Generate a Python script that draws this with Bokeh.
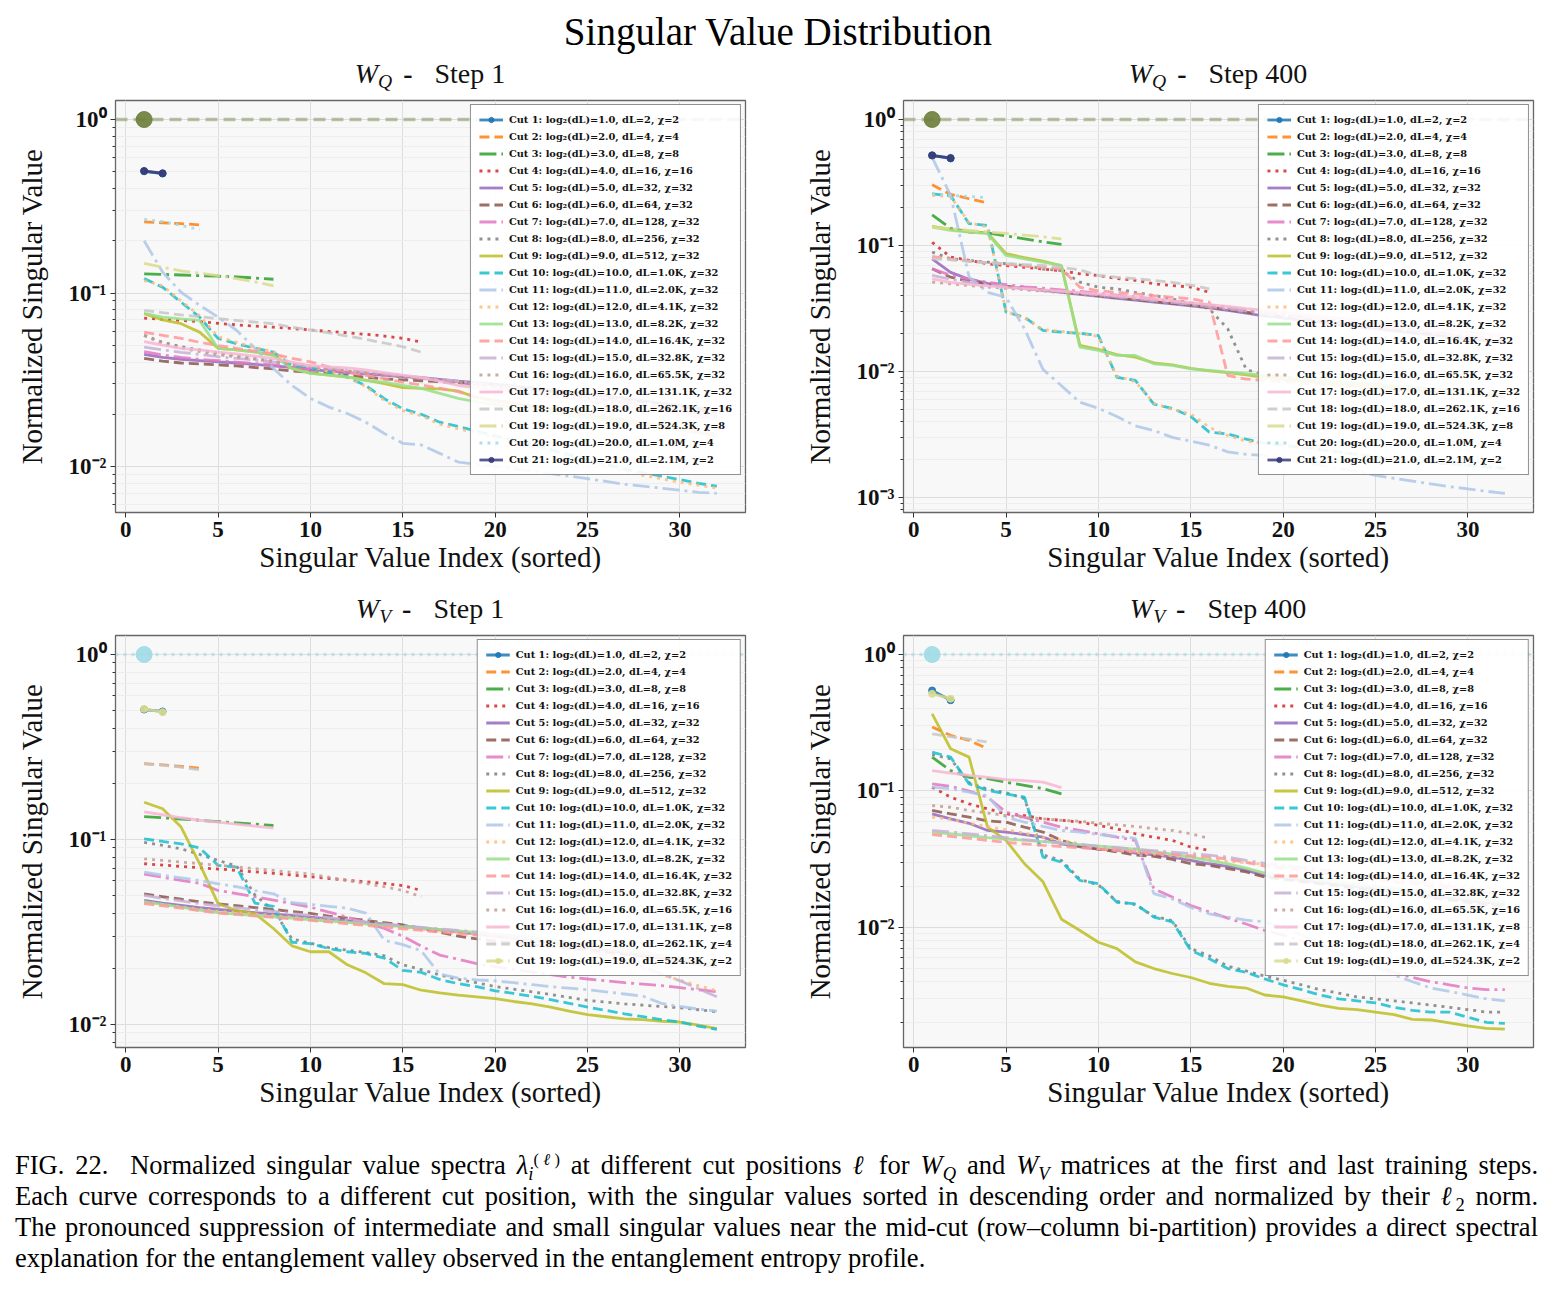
from bokeh.plotting import figure
from bokeh.models import (Range1d, FixedTicker, CustomJSTickFormatter, Span, Div)
from bokeh.layouts import column, row
from bokeh.embed import file_html
from bokeh.resources import INLINE

# ------------------------------------------------------------------ data
TITLE = "Singular Value Distribution"
X_LABEL = "Singular Value Index (sorted)"
Y_LABEL = "Normalized Singular Value"

cut_log2 = [float(k) for k in range(1, 22)]
dl_text = ["2", "4", "8", "16", "32", "64", "128", "256", "512", "1.0K", "2.0K", "4.1K",
           "8.2K", "16.4K", "32.8K", "65.5K", "131.1K", "262.1K", "524.3K", "1.0M", "2.1M"]
chi_wq = [2, 4, 8, 16, 32, 32, 32, 32, 32, 32, 32, 32, 32, 32, 32, 32, 32, 16, 8, 4, 2]
chi_wv = [2, 4, 8, 16, 32, 32, 32, 32, 32, 32, 32, 32, 32, 32, 32, 16, 8, 4, 2]

x_ticks = [0, 5, 10, 15, 20, 25, 30]
unity_index = [1]
unity_value = [1.0]

# W_Q, step 1 (cuts 1..21)
wq_step1 = [
    [0.503, 0.488],
    [0.257, 0.254, 0.251, 0.247],
    [0.129, 0.128, 0.127, 0.126, 0.125, 0.124, 0.122, 0.120],
    [0.0716, 0.0705, 0.0695, 0.0685, 0.0668, 0.0655, 0.0645, 0.0635, 0.0625, 0.0612, 0.0600, 0.0590, 0.0578, 0.0565, 0.0548, 0.0522],
    [0.0443, 0.0425, 0.0415, 0.0408, 0.0401, 0.0395, 0.0388, 0.0380, 0.0372, 0.0362, 0.0355, 0.0348, 0.0342, 0.0336, 0.0330, 0.0325, 0.0318, 0.0310, 0.0304, 0.0298, 0.0291, 0.0284, 0.0277, 0.0270, 0.0262, 0.0255, 0.0248, 0.0240, 0.0232, 0.0225, 0.0218, 0.0210],
    [0.0420, 0.0405, 0.0395, 0.0390, 0.0385, 0.0380, 0.0372, 0.0365, 0.0355, 0.0348, 0.0342, 0.0335, 0.0328, 0.0320, 0.0316, 0.0312, 0.0308, 0.0304, 0.0300, 0.0296, 0.0288, 0.0280, 0.0272, 0.0265, 0.0258, 0.0250, 0.0242, 0.0235, 0.0228, 0.0220, 0.0213, 0.0205],
    [0.0460, 0.0440, 0.0425, 0.0415, 0.0408, 0.0400, 0.0392, 0.0385, 0.0375, 0.0365, 0.0358, 0.0350, 0.0343, 0.0336, 0.0330, 0.0322, 0.0315, 0.0308, 0.0300, 0.0292, 0.0284, 0.0276, 0.0268, 0.0260, 0.0252, 0.0244, 0.0236, 0.0228, 0.0220, 0.0212, 0.0204, 0.0196],
    [0.0570, 0.0520, 0.0490, 0.0470, 0.0450, 0.0435, 0.0420, 0.0405, 0.0390, 0.0378, 0.0366, 0.0355, 0.0345, 0.0336, 0.0328, 0.0320, 0.0312, 0.0304, 0.0296, 0.0288, 0.0280, 0.0272, 0.0264, 0.0256, 0.0248, 0.0240, 0.0232, 0.0224, 0.0216, 0.0208, 0.0200, 0.0192],
    [0.0760, 0.0700, 0.0665, 0.0595, 0.0480, 0.0470, 0.0458, 0.0440, 0.0368, 0.0345, 0.0336, 0.0328, 0.0315, 0.0300, 0.0285, 0.0282, 0.0280, 0.0272, 0.0250, 0.0240, 0.0232, 0.0222, 0.0214, 0.0206, 0.0198, 0.0190, 0.0183, 0.0176, 0.0170, 0.0163, 0.0157, 0.0150],
    [0.121, 0.108, 0.0885, 0.0726, 0.0547, 0.0510, 0.0480, 0.0456, 0.0382, 0.0375, 0.0350, 0.0327, 0.0293, 0.0246, 0.0215, 0.0200, 0.0180, 0.0170, 0.0160, 0.0150, 0.0142, 0.0134, 0.0125, 0.0117, 0.0110, 0.0103, 0.0097, 0.0092, 0.0088, 0.0084, 0.0080, 0.0077],
    [0.200, 0.132, 0.101, 0.085, 0.0726, 0.0610, 0.0480, 0.0367, 0.0293, 0.0247, 0.0220, 0.0202, 0.0180, 0.0155, 0.0136, 0.0133, 0.0119, 0.0106, 0.0103, 0.0100, 0.0097, 0.0094, 0.0091, 0.0088, 0.0085, 0.0082, 0.0079, 0.0077, 0.0075, 0.0073, 0.0071, 0.0070],
    [0.118, 0.110, 0.0900, 0.0740, 0.0560, 0.0520, 0.0485, 0.0460, 0.0390, 0.0378, 0.0352, 0.0330, 0.0288, 0.0240, 0.0210, 0.0196, 0.0175, 0.0165, 0.0156, 0.0147, 0.0139, 0.0130, 0.0122, 0.0114, 0.0107, 0.0100, 0.0094, 0.0089, 0.0085, 0.0081, 0.0078, 0.0075],
    [0.0762, 0.0726, 0.0710, 0.0695, 0.0480, 0.0470, 0.0456, 0.0436, 0.0367, 0.0344, 0.0336, 0.0328, 0.0313, 0.0306, 0.0293, 0.0282, 0.0264, 0.0247, 0.0236, 0.0228, 0.0220, 0.0212, 0.0205, 0.0198, 0.0191, 0.0185, 0.0179, 0.0173, 0.0167, 0.0162, 0.0157, 0.0152],
    [0.0594, 0.0570, 0.0547, 0.0520, 0.0498, 0.0480, 0.0462, 0.0446, 0.0420, 0.0401, 0.0375, 0.0350, 0.0335, 0.0320, 0.0306, 0.0295, 0.0283, 0.0270, 0.0250, 0.0240, 0.0232, 0.0224, 0.0216, 0.0208, 0.0200, 0.0193, 0.0186, 0.0179, 0.0172, 0.0166, 0.0160, 0.0154],
    [0.0488, 0.0470, 0.0455, 0.0442, 0.0430, 0.0420, 0.0410, 0.0400, 0.0390, 0.0380, 0.0370, 0.0360, 0.0350, 0.0342, 0.0334, 0.0326, 0.0318, 0.0310, 0.0302, 0.0294, 0.0286, 0.0278, 0.0270, 0.0262, 0.0254, 0.0246, 0.0238, 0.0230, 0.0222, 0.0214, 0.0206, 0.0198],
    [0.0569, 0.0510, 0.0480, 0.0460, 0.0440, 0.0428, 0.0415, 0.0400, 0.0388, 0.0376, 0.0365, 0.0355, 0.0346, 0.0338, 0.0330, 0.0322, 0.0314, 0.0306, 0.0298, 0.0290, 0.0282, 0.0274, 0.0266, 0.0258, 0.0250, 0.0242, 0.0234, 0.0226, 0.0218, 0.0210, 0.0202, 0.0195],
    [0.0525, 0.0500, 0.0480, 0.0470, 0.0456, 0.0445, 0.0432, 0.0418, 0.0400, 0.0382, 0.0375, 0.0370, 0.0360, 0.0348, 0.0336, 0.0325, 0.0310, 0.0293, 0.0285, 0.0278, 0.0270, 0.0262, 0.0254, 0.0246, 0.0238, 0.0230, 0.0222, 0.0215, 0.0208, 0.0201, 0.0194, 0.0187],
    [0.0795, 0.0770, 0.0748, 0.0730, 0.0713, 0.0695, 0.0680, 0.0665, 0.0635, 0.0612, 0.0590, 0.0565, 0.0540, 0.0515, 0.0490, 0.0456],
    [0.148, 0.141, 0.134, 0.130, 0.126, 0.121, 0.116, 0.110],
    [0.266, 0.258, 0.245, 0.232],
    [0.505, 0.490],
]

# W_Q, step 400 (cuts 1..21)
wq_step400 = [
    [0.520, 0.490],
    [0.303, 0.255, 0.235, 0.218],
    [0.175, 0.137, 0.128, 0.126, 0.119, 0.113, 0.107, 0.102],
    [0.106, 0.081, 0.0763, 0.0716, 0.0694, 0.067, 0.065, 0.0632, 0.0596, 0.0578, 0.0546, 0.0529, 0.0497, 0.0481, 0.0468, 0.0425],
    [0.0784, 0.0612, 0.0540, 0.0500, 0.0470, 0.0455, 0.0440, 0.0425, 0.0410, 0.0395, 0.0380, 0.0368, 0.0356, 0.0344, 0.0332, 0.0320, 0.0305, 0.0290, 0.0275, 0.0265, 0.0255, 0.0245, 0.0236, 0.0227, 0.0218, 0.0210, 0.0202, 0.0195, 0.0188, 0.0181, 0.0175, 0.0169],
    [0.0653, 0.0560, 0.0520, 0.0495, 0.0475, 0.0460, 0.0445, 0.0430, 0.0415, 0.0400, 0.0385, 0.0372, 0.0360, 0.0348, 0.0336, 0.0324, 0.0310, 0.0296, 0.0282, 0.0272, 0.0262, 0.0252, 0.0243, 0.0234, 0.0225, 0.0216, 0.0208, 0.0200, 0.0193, 0.0186, 0.0179, 0.0172],
    [0.0653, 0.0580, 0.0540, 0.0510, 0.0490, 0.0470, 0.0458, 0.0445, 0.0432, 0.0418, 0.0404, 0.0390, 0.0376, 0.0363, 0.0350, 0.0337, 0.0322, 0.0307, 0.0292, 0.0282, 0.0272, 0.0262, 0.0252, 0.0242, 0.0233, 0.0224, 0.0215, 0.0207, 0.0199, 0.0191, 0.0184, 0.0177],
    [0.0885, 0.0784, 0.0760, 0.0738, 0.0716, 0.0694, 0.0650, 0.0632, 0.0512, 0.0466, 0.0453, 0.0425, 0.0401, 0.0378, 0.0345, 0.0314, 0.0218, 0.0104, 0.0093, 0.0090, 0.0087, 0.0084, 0.0082, 0.0080, 0.0078, 0.0076, 0.0074, 0.0072, 0.0070, 0.0069, 0.0067, 0.0066],
    [0.142, 0.134, 0.129, 0.126, 0.0860, 0.0800, 0.0750, 0.0690, 0.0161, 0.0150, 0.0136, 0.0130, 0.0117, 0.0113, 0.0106, 0.0101, 0.0098, 0.0094, 0.0090, 0.0087, 0.0084, 0.0081, 0.0079, 0.0077, 0.0075, 0.0073, 0.0071, 0.0069, 0.0067, 0.0066, 0.0064, 0.0063],
    [0.257, 0.249, 0.149, 0.144, 0.0296, 0.0270, 0.0212, 0.0205, 0.0201, 0.0193, 0.0090, 0.0085, 0.0055, 0.0051, 0.0044, 0.0033, 0.0032, 0.0029, 0.0027, 0.0026, 0.0025, 0.0024, 0.0023, 0.0022, 0.0021, 0.0020, 0.00195, 0.0019, 0.00185, 0.0018, 0.00175, 0.0017],
    [0.500, 0.250, 0.0562, 0.0425, 0.0388, 0.0218, 0.0104, 0.0077, 0.0057, 0.0051, 0.0044, 0.0037, 0.0034, 0.0030, 0.0028, 0.0026, 0.0023, 0.0022, 0.00215, 0.0020, 0.0019, 0.0018, 0.0017, 0.0016, 0.0015, 0.00142, 0.00135, 0.00128, 0.00122, 0.00117, 0.00112, 0.00108],
    [0.250, 0.245, 0.152, 0.140, 0.0300, 0.0265, 0.0215, 0.0208, 0.0200, 0.0190, 0.0092, 0.0083, 0.0056, 0.0050, 0.0046, 0.0036, 0.0031, 0.0028, 0.0027, 0.0026, 0.0025, 0.0024, 0.0023, 0.0022, 0.0021, 0.0020, 0.00195, 0.0019, 0.00185, 0.0018, 0.00175, 0.0017],
    [0.140, 0.132, 0.128, 0.124, 0.0833, 0.0784, 0.0738, 0.0694, 0.0156, 0.0147, 0.0134, 0.0134, 0.0115, 0.0112, 0.0105, 0.0102, 0.0099, 0.0096, 0.0093, 0.0090, 0.0087, 0.0085, 0.0083, 0.0081, 0.0079, 0.0077, 0.0075, 0.0073, 0.0071, 0.0069, 0.0067, 0.0065],
    [0.0820, 0.0780, 0.0750, 0.0730, 0.0710, 0.0690, 0.0670, 0.0650, 0.0466, 0.0437, 0.0425, 0.0413, 0.0400, 0.0388, 0.0378, 0.0355, 0.0093, 0.0087, 0.0085, 0.0083, 0.0081, 0.0079, 0.0077, 0.0075, 0.0073, 0.0071, 0.0070, 0.0068, 0.0067, 0.0065, 0.0064, 0.0063],
    [0.0580, 0.0540, 0.0510, 0.0490, 0.0470, 0.0455, 0.0442, 0.0430, 0.0418, 0.0405, 0.0392, 0.0379, 0.0366, 0.0353, 0.0340, 0.0327, 0.0314, 0.0301, 0.0288, 0.0278, 0.0268, 0.0258, 0.0248, 0.0239, 0.0230, 0.0221, 0.0212, 0.0204, 0.0196, 0.0189, 0.0182, 0.0175],
    [0.0512, 0.0495, 0.0480, 0.0468, 0.0456, 0.0445, 0.0434, 0.0423, 0.0412, 0.0400, 0.0388, 0.0376, 0.0364, 0.0352, 0.0340, 0.0328, 0.0316, 0.0304, 0.0292, 0.0282, 0.0272, 0.0262, 0.0252, 0.0243, 0.0234, 0.0225, 0.0216, 0.0208, 0.0200, 0.0192, 0.0185, 0.0178],
    [0.0543, 0.0510, 0.0492, 0.0478, 0.0465, 0.0455, 0.0445, 0.0435, 0.0424, 0.0412, 0.0400, 0.0388, 0.0376, 0.0364, 0.0352, 0.0340, 0.0328, 0.0316, 0.0305, 0.0295, 0.0285, 0.0275, 0.0265, 0.0256, 0.0247, 0.0238, 0.0229, 0.0221, 0.0213, 0.0205, 0.0198, 0.0191],
    [0.0784, 0.0770, 0.0750, 0.0730, 0.0718, 0.0706, 0.0694, 0.0670, 0.0640, 0.0578, 0.0560, 0.0545, 0.0529, 0.0510, 0.0485, 0.0453],
    [0.140, 0.136, 0.132, 0.128, 0.125, 0.121, 0.117, 0.113],
    [0.258, 0.250, 0.245, 0.240],
    [0.518, 0.495],
]

# W_V, step 1 (cuts 1..19)
wv_step1 = [
    [0.504, 0.492],
    [0.257, 0.253, 0.248, 0.243],
    [0.133, 0.131, 0.129, 0.127, 0.125, 0.123, 0.121, 0.119],
    [0.0739, 0.0727, 0.0715, 0.0703, 0.0692, 0.0680, 0.0668, 0.0656, 0.0642, 0.0628, 0.0615, 0.0602, 0.0590, 0.0578, 0.0563, 0.0530],
    [0.0468, 0.0452, 0.0440, 0.0428, 0.0418, 0.0410, 0.0402, 0.0395, 0.0388, 0.0380, 0.0372, 0.0364, 0.0356, 0.0348, 0.0340, 0.0332, 0.0324, 0.0316, 0.0308, 0.0300, 0.0292, 0.0284, 0.0276, 0.0268, 0.0260, 0.0252, 0.0244, 0.0236, 0.0228, 0.0220, 0.0212, 0.0204],
    [0.0508, 0.0490, 0.0475, 0.0460, 0.0448, 0.0438, 0.0428, 0.0418, 0.0408, 0.0398, 0.0385, 0.0375, 0.0365, 0.0355, 0.0345, 0.0330, 0.0315, 0.0300, 0.0290, 0.0282, 0.0276, 0.0270, 0.0264, 0.0258, 0.0252, 0.0246, 0.0240, 0.0234, 0.0228, 0.0222, 0.0216, 0.0210],
    [0.0650, 0.0625, 0.0600, 0.0580, 0.0530, 0.0510, 0.0490, 0.0470, 0.0450, 0.0430, 0.0405, 0.0380, 0.0355, 0.0330, 0.0300, 0.0265, 0.0237, 0.0225, 0.0213, 0.0205, 0.0198, 0.0192, 0.0186, 0.0180, 0.0176, 0.0172, 0.0168, 0.0165, 0.0162, 0.0158, 0.0154, 0.0150],
    [0.0964, 0.0930, 0.0890, 0.0830, 0.0770, 0.0720, 0.0500, 0.0413, 0.0290, 0.0275, 0.0260, 0.0252, 0.0245, 0.0235, 0.0210, 0.0198, 0.0185, 0.0175, 0.0168, 0.0160, 0.0155, 0.0150, 0.0145, 0.0140, 0.0135, 0.0132, 0.0129, 0.0127, 0.0125, 0.0123, 0.0120, 0.0117],
    [0.159, 0.1465, 0.1166, 0.0740, 0.0450, 0.0413, 0.0397, 0.0330, 0.0266, 0.0247, 0.0247, 0.0210, 0.0190, 0.0166, 0.0164, 0.0153, 0.0148, 0.0144, 0.0141, 0.0138, 0.0133, 0.0129, 0.0124, 0.0118, 0.0113, 0.0110, 0.0107, 0.0106, 0.0104, 0.0103, 0.0099, 0.0095],
    [0.1008, 0.0975, 0.0947, 0.0900, 0.0725, 0.0709, 0.0453, 0.0434, 0.0278, 0.0273, 0.0257, 0.0247, 0.0242, 0.0228, 0.0196, 0.0191, 0.0175, 0.0166, 0.0160, 0.0152, 0.0147, 0.0142, 0.0136, 0.0130, 0.0124, 0.0119, 0.0114, 0.0110, 0.0106, 0.0103, 0.0098, 0.0094],
    [0.0666, 0.0640, 0.0620, 0.0600, 0.0575, 0.0555, 0.0530, 0.0508, 0.0455, 0.0445, 0.0435, 0.0425, 0.0400, 0.0285, 0.0270, 0.0250, 0.0187, 0.0178, 0.0174, 0.0172, 0.0168, 0.0164, 0.0160, 0.0157, 0.0154, 0.0150, 0.0146, 0.0142, 0.0130, 0.0125, 0.0121, 0.0118],
    [0.0460, 0.0445, 0.0432, 0.0420, 0.0410, 0.0402, 0.0395, 0.0388, 0.0380, 0.0372, 0.0364, 0.0356, 0.0348, 0.0340, 0.0333, 0.0326, 0.0320, 0.0314, 0.0308, 0.0300, 0.0290, 0.0280, 0.0268, 0.0255, 0.0242, 0.0228, 0.0214, 0.0200, 0.0186, 0.0173, 0.0162, 0.0152],
    [0.0459, 0.0445, 0.0430, 0.0415, 0.0402, 0.0395, 0.0388, 0.0382, 0.0376, 0.0368, 0.0362, 0.0356, 0.0350, 0.0344, 0.0338, 0.0332, 0.0326, 0.0320, 0.0314, 0.0308, 0.0302, 0.0295, 0.0288, 0.0280, 0.0272, 0.0264, 0.0255, 0.0246, 0.0237, 0.0228, 0.0219, 0.0210],
    [0.0450, 0.0438, 0.0425, 0.0412, 0.0400, 0.0393, 0.0386, 0.0379, 0.0372, 0.0365, 0.0358, 0.0350, 0.0343, 0.0336, 0.0329, 0.0322, 0.0316, 0.0310, 0.0304, 0.0298, 0.0292, 0.0285, 0.0278, 0.0270, 0.0262, 0.0254, 0.0246, 0.0238, 0.0230, 0.0222, 0.0214, 0.0206],
    [0.0498, 0.0480, 0.0465, 0.0450, 0.0438, 0.0428, 0.0418, 0.0408, 0.0398, 0.0388, 0.0378, 0.0368, 0.0358, 0.0350, 0.0342, 0.0335, 0.0328, 0.0322, 0.0316, 0.0308, 0.0298, 0.0288, 0.0276, 0.0264, 0.0250, 0.0236, 0.0220, 0.0204, 0.0188, 0.0172, 0.0156, 0.0141],
    [0.0786, 0.0770, 0.0755, 0.0740, 0.0726, 0.0710, 0.0695, 0.0680, 0.0665, 0.0650, 0.0625, 0.0600, 0.0578, 0.0555, 0.0530, 0.0490],
    [0.141, 0.136, 0.131, 0.127, 0.124, 0.121, 0.118, 0.115],
    [0.256, 0.252, 0.246, 0.238],
    [0.508, 0.488],
]

# W_V, step 400 (cuts 1..19)
wv_step400 = [
    [0.545, 0.462],
    [0.294, 0.256, 0.235, 0.204],
    [0.177, 0.141, 0.126, 0.123, 0.116, 0.110, 0.104, 0.0953],
    [0.1067, 0.0901, 0.0805, 0.0740, 0.0680, 0.0660, 0.0625, 0.0610, 0.0591, 0.0560, 0.0528, 0.0486, 0.0459, 0.0435, 0.0388, 0.0367],
    [0.0680, 0.0625, 0.0580, 0.0514, 0.0500, 0.0480, 0.0459, 0.0410, 0.0390, 0.0375, 0.0367, 0.0350, 0.0340, 0.0328, 0.0310, 0.0293, 0.0280, 0.0262, 0.0240, 0.0230, 0.0222, 0.0214, 0.0206, 0.0198, 0.0191, 0.0184, 0.0177, 0.0170, 0.0164, 0.0158, 0.0152, 0.0147],
    [0.0720, 0.0680, 0.0643, 0.0605, 0.0591, 0.0543, 0.0500, 0.0435, 0.0395, 0.0375, 0.0358, 0.0340, 0.0332, 0.0315, 0.0293, 0.0285, 0.0270, 0.0255, 0.0234, 0.0225, 0.0217, 0.0209, 0.0201, 0.0193, 0.0186, 0.0179, 0.0172, 0.0165, 0.0159, 0.0153, 0.0147, 0.0142],
    [0.1128, 0.1080, 0.1000, 0.0900, 0.0700, 0.0640, 0.0590, 0.0543, 0.0514, 0.0486, 0.0459, 0.0435, 0.0192, 0.0167, 0.0145, 0.0130, 0.0117, 0.0106, 0.0095, 0.0088, 0.0080, 0.0072, 0.0065, 0.0058, 0.0052, 0.0047, 0.0043, 0.0040, 0.0038, 0.0036, 0.0035, 0.0035],
    [0.185, 0.172, 0.115, 0.103, 0.097, 0.088, 0.034, 0.031, 0.0225, 0.0205, 0.0155, 0.0147, 0.0121, 0.0112, 0.0070, 0.0062, 0.0052, 0.0048, 0.0044, 0.0041, 0.0038, 0.0035, 0.0033, 0.0031, 0.0030, 0.0029, 0.0028, 0.0027, 0.0026, 0.0025, 0.0024, 0.0024],
    [0.367, 0.204, 0.177, 0.0543, 0.0435, 0.0293, 0.0216, 0.0115, 0.0095, 0.0078, 0.0070, 0.0056, 0.0050, 0.0046, 0.0043, 0.0039, 0.0037, 0.0036, 0.0032, 0.0031, 0.0029, 0.0027, 0.00255, 0.0025, 0.0024, 0.0023, 0.00212, 0.0021, 0.0020, 0.0019, 0.00182, 0.0018],
    [0.1925, 0.177, 0.1128, 0.1009, 0.0953, 0.0901, 0.0328, 0.0302, 0.0221, 0.0209, 0.0153, 0.0149, 0.0119, 0.0110, 0.0068, 0.0059, 0.0050, 0.0047, 0.0042, 0.0038, 0.0035, 0.0032, 0.0030, 0.0029, 0.0028, 0.0026, 0.00247, 0.0024, 0.0024, 0.0022, 0.00202, 0.00198],
    [0.1067, 0.1040, 0.0980, 0.0920, 0.0643, 0.0591, 0.0550, 0.0514, 0.0500, 0.0480, 0.0465, 0.0450, 0.0177, 0.0162, 0.0140, 0.0126, 0.0119, 0.0113, 0.0110, 0.0100, 0.0088, 0.0076, 0.0066, 0.0058, 0.0051, 0.0045, 0.0040, 0.0036, 0.0034, 0.0032, 0.0030, 0.0029],
    [0.0643, 0.0620, 0.0580, 0.0550, 0.0520, 0.0490, 0.0460, 0.0435, 0.0410, 0.0380, 0.0367, 0.0355, 0.0345, 0.0335, 0.0325, 0.0315, 0.0305, 0.0298, 0.0290, 0.0282, 0.0274, 0.0266, 0.0258, 0.0250, 0.0242, 0.0234, 0.0226, 0.0218, 0.0210, 0.0202, 0.0195, 0.0188],
    [0.0500, 0.0485, 0.0470, 0.0455, 0.0445, 0.0435, 0.0425, 0.0415, 0.0405, 0.0395, 0.0385, 0.0375, 0.0360, 0.0345, 0.0328, 0.0310, 0.0292, 0.0272, 0.0250, 0.0240, 0.0232, 0.0224, 0.0216, 0.0208, 0.0200, 0.0193, 0.0186, 0.0179, 0.0172, 0.0166, 0.0160, 0.0154],
    [0.0480, 0.0465, 0.0450, 0.0435, 0.0420, 0.0410, 0.0400, 0.0392, 0.0384, 0.0376, 0.0368, 0.0360, 0.0352, 0.0344, 0.0336, 0.0328, 0.0318, 0.0300, 0.0282, 0.0272, 0.0262, 0.0252, 0.0243, 0.0234, 0.0225, 0.0217, 0.0209, 0.0201, 0.0194, 0.0187, 0.0180, 0.0174],
    [0.0514, 0.0500, 0.0485, 0.0470, 0.0455, 0.0440, 0.0428, 0.0416, 0.0405, 0.0395, 0.0385, 0.0375, 0.0366, 0.0357, 0.0348, 0.0339, 0.0328, 0.0310, 0.0295, 0.0285, 0.0275, 0.0265, 0.0255, 0.0245, 0.0236, 0.0227, 0.0218, 0.0209, 0.0201, 0.0193, 0.0186, 0.0179],
    [0.0783, 0.0760, 0.0720, 0.0690, 0.0660, 0.0640, 0.0625, 0.0610, 0.0600, 0.0580, 0.0565, 0.0550, 0.0530, 0.0514, 0.0486, 0.0450],
    [0.141, 0.135, 0.130, 0.126, 0.121, 0.119, 0.116, 0.106],
    [0.262, 0.250, 0.240, 0.228],
    [0.515, 0.475],
]

# ------------------------------------------------------------------ style
CUT_COLORS = ["#1f77b4", "#ff7f0e", "#2ca02c", "#d62728", "#9467bd", "#8c564b", "#e377c2",
              "#7f7f7f", "#bcbd22", "#17becf", "#aec7e8", "#ffbb78", "#98df8a", "#ff9896",
              "#c5b0d5", "#c49c94", "#f7b6d2", "#c7c7c7", "#dbdb8d", "#9edae5", "#393b79"]
DASHES = ["solid", "10 5", "17 5 3 5", "3 5"]
SERIF = "Liberation Serif"
LEG_FONT = "DejaVu Serif"

MAJOR_Y = [1e-4, 1e-3, 1e-2, 1e-1, 1.0]
MINOR_Y = [m * 10.0 ** e for e in range(-4, 1) for m in range(2, 10)]

SUP_FMT = CustomJSTickFormatter(code="""
const e = Math.round(Math.log10(tick));
const m = {'0':'\u2070','1':'\u00b9','2':'\u00b2','3':'\u00b3','4':'\u2074','-':'\u207b'};
return '10' + String(e).split('').map(c => m[c]).join('');
""")


def make_panel(series, chis, y_bounds, unity_color, unity_line_color, unity_dash,
               border_left, border_right):
    p = figure(width=778, height=495, y_axis_type="log", title=None,
               x_range=Range1d(-0.55, 33.55), y_range=Range1d(*y_bounds),
               output_backend="svg", toolbar_location=None,
               min_border_left=border_left, min_border_right=border_right,
               min_border_top=10, min_border_bottom=73,
               background_fill_color="#f8f8f8", border_fill_color="white")

    yt = FixedTicker(ticks=MAJOR_Y, minor_ticks=MINOR_Y)
    xt = FixedTicker(ticks=x_ticks, minor_ticks=[])
    p.yaxis.ticker = yt
    p.ygrid.ticker = yt
    p.xaxis.ticker = xt
    p.xgrid.ticker = xt
    p.yaxis.formatter = SUP_FMT
    p.xgrid.grid_line_color = "#dddddd"
    p.ygrid.grid_line_color = "#dddddd"
    p.ygrid.minor_grid_line_color = "#eeeeee"
    p.outline_line_color = "#666666"
    p.outline_line_width = 1.3

    for ax in (p.xaxis[0], p.yaxis[0]):
        ax.axis_line_color = None
        ax.major_tick_in = 0
        ax.major_tick_out = 5
        ax.minor_tick_in = 0
        ax.minor_tick_out = 3
        ax.major_tick_line_color = "#333333"
        ax.minor_tick_line_color = "#333333"
        ax.major_label_text_font = SERIF
        ax.major_label_text_font_style = "bold"
        ax.major_label_text_font_size = "23px"
        ax.major_label_text_color = "#111111"
        ax.major_label_standoff = 4
        ax.axis_label_text_font = SERIF
        ax.axis_label_text_font_style = "normal"
        ax.axis_label_text_font_size = "29px"
        ax.axis_label_text_color = "#111111"
    p.xaxis.axis_label = X_LABEL
    p.yaxis.axis_label = Y_LABEL
    p.xaxis.axis_label_standoff = 1
    p.yaxis.axis_label_standoff = 18

    span = Span(location=unity_value[0], dimension="width", line_color=unity_line_color,
                line_width=3.5, line_alpha=0.6, line_dash=unity_dash, level="underlay")
    p.add_layout(span)

    for k, vals in enumerate(series, start=1):
        idx = list(range(1, len(vals) + 1))
        label = f"Cut {k}: log\u2082(dL)={cut_log2[k-1]:.1f}, dL={dl_text[k-1]}, \u03c7={chis[k-1]}"
        color = CUT_COLORS[k - 1]
        p.line(idx, vals, line_color=color, line_width=2.8, line_alpha=0.85,
               line_dash=DASHES[(k - 1) % 4], legend_label=label)
        if chis[k - 1] == 2:
            p.scatter(idx, vals, size=7, fill_color=color, line_color=color,
                      alpha=0.9, legend_label=label)

    p.scatter(unity_index, unity_value, size=16, fill_color=unity_color,
              line_color=unity_color, alpha=0.9)

    lg = p.legend[0]
    lg.location = "top_right"
    lg.margin = 4
    lg.padding = 8
    lg.spacing = 4
    lg.label_height = 13
    lg.glyph_height = 13
    lg.glyph_width = 24
    lg.label_standoff = 6
    lg.label_text_font = LEG_FONT
    lg.label_text_font_style = "bold"
    lg.label_text_font_size = "9.8px"
    lg.label_text_color = "#111111"
    lg.border_line_color = "#222222"
    lg.border_line_width = 1
    lg.background_fill_color = "white"
    lg.background_fill_alpha = 0.9
    return p


def subtitle(sub, step_text, pad_left):
    html = (f'<div style="box-sizing:content-box;width:630px;padding-left:{pad_left}px;padding-top:10px;'
            f'text-align:center;font-family:\'{SERIF}\';font-size:28px;line-height:27px;color:#111;'
            f'white-space:nowrap">'
            f'<i>W</i><sub style="font-size:70%;line-height:0;vertical-align:-0.28em"><i>{sub}</i></sub>'
            f'<b style="margin-left:11px;margin-right:22px">-</b>{step_text}</div>')
    return Div(text=html, width=778, height=40, margin=(0, 0, 0, 0))


p_tl = make_panel(wq_step1, chi_wq, (0.00543, 1.287), "#6b7d3a", "#8c9c6a", "12 6", 115, 33)
p_tr = make_panel(wq_step400, chi_wq, (0.00076, 1.415), "#6b7d3a", "#8c9c6a", "12 6", 125, 23)
p_bl = make_panel(wv_step1, chi_wv, (0.0075, 1.267), "#9edae5", "#9edae5", "3 5", 115, 33)
p_br = make_panel(wv_step400, chi_wv, (0.00132, 1.378), "#9edae5", "#9edae5", "3 5", 125, 23)

title_div = Div(text=(f'<div style="box-sizing:content-box;width:1556px;text-align:center;'
                      f'font-family:\'{SERIF}\';font-size:39px;line-height:39px;padding-top:12px;'
                      f'color:#000">{TITLE}</div>'),
                width=1556, height=50, margin=(0, 0, 0, 0))

subs = 'style="font-size:70%;line-height:0;vertical-align:-0.3em"'
sups = 'style="font-size:62%;line-height:0;vertical-align:0.55em"'
lam = f'<i>\u03bb</i><sub {subs}><i>i</i></sub><sup {sups}>(<i>\u2113</i>)</sup>'
cap_lines = [
    f'FIG. 22.&nbsp; Normalized singular value spectra {lam} at different cut positions '
    f'<i>\u2113</i> for <i>W</i><sub {subs}><i>Q</i></sub> and <i>W</i><sub {subs}><i>V</i></sub> '
    f'matrices at the first and last training steps.',
    f'Each curve corresponds to a different cut position, with the singular values sorted in descending '
    f'order and normalized by their <i>\u2113</i><sub {subs}>2</sub> norm.',
    'The pronounced suppression of intermediate and small singular values near the mid-cut '
    '(row\u2013column bi-partition) provides a direct spectral',
    'explanation for the entanglement valley observed in the entanglement entropy profile.',
]
line_divs = []
for i, t in enumerate(cap_lines):
    last = "left" if i == len(cap_lines) - 1 else "justify"
    line_divs.append(f'<div style="height:31px;line-height:31px;white-space:nowrap;overflow:visible;'
                     f'text-align:justify;text-align-last:{last}">{t}</div>')
caption_html = (f'<div style="box-sizing:content-box;width:1523px;padding-left:15px;padding-top:30px;'
                f'font-family:\'{SERIF}\';font-size:26.5px;color:#000">' + "".join(line_divs) + '</div>')
caption_div = Div(text=caption_html, width=1556, height=174, margin=(0, 0, 0, 0))

layout = column(title_div,
                row(subtitle("Q", "Step 1", 115), subtitle("Q", "Step 400", 125)),
                row(p_tl, p_tr),
                row(subtitle("V", "Step 1", 115), subtitle("V", "Step 400", 125)),
                row(p_bl, p_br),
                caption_div)

with open("out.html", "w", encoding="utf-8") as f:
    f.write(file_html(layout, INLINE))
